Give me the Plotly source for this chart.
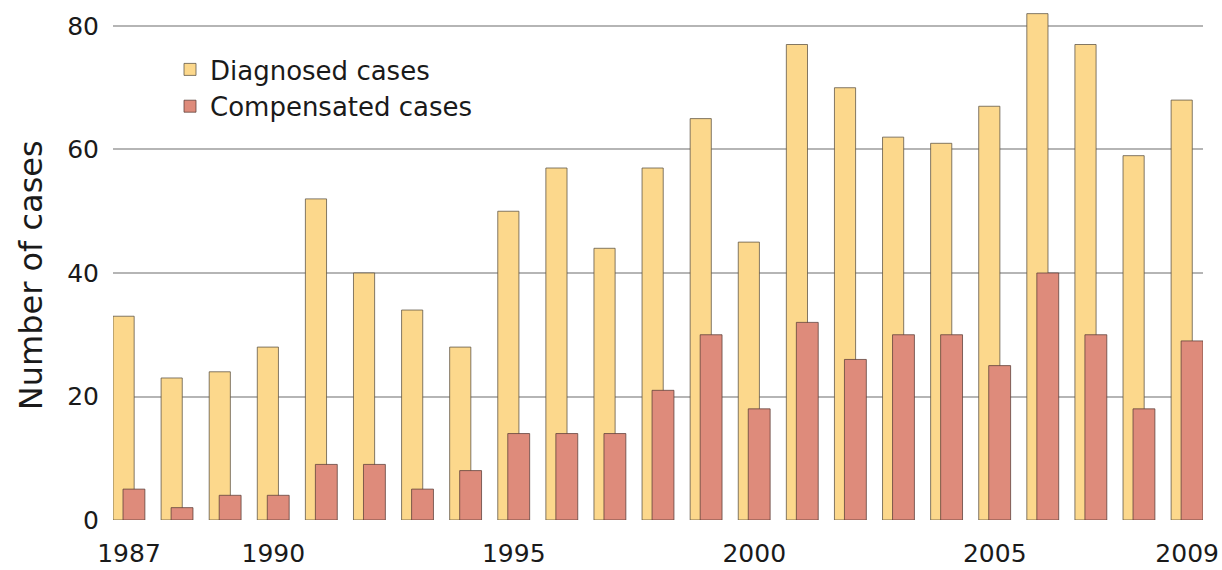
import plotly.graph_objects as go

years = list(range(1987, 2010))
diagnosed = [33, 23, 24, 28, 52, 40, 34, 28, 50, 57, 44, 57, 65, 45, 77, 70, 62, 61, 67, 82, 77, 59, 68]
compensated = [5, 2, 4, 4, 9, 9, 5, 8, 14, 14, 14, 21, 30, 18, 32, 26, 30, 30, 25, 40, 30, 18, 29]
x_tickvals = [1987, 1990, 1995, 2000, 2005, 2009]
x_ticktext = ["1987", "1990", "1995", "2000", "2005", "2009"]
y_tickvals = [0, 20, 40, 60, 80]
y_title = "Number of cases"

FONT = "DejaVu Sans"

fig = go.Figure()
fig.add_trace(go.Bar(
    x=years, y=diagnosed, name="Diagnosed cases",
    width=0.44, offset=-0.333,
    marker=dict(color="#FCD88C", line=dict(color="rgba(90,80,65,0.75)", width=1)),
))
fig.add_trace(go.Bar(
    x=years, y=compensated, name="Compensated cases",
    width=0.455, offset=-0.125,
    marker=dict(color="#DE8B7B", line=dict(color="rgba(90,60,55,0.75)", width=1)),
))

fig.update_layout(
    width=1222, height=570, autosize=False,
    barmode="overlay",
    plot_bgcolor="white", paper_bgcolor="white",
    margin=dict(l=113, r=19, t=9, b=50),
    font=dict(family=FONT, size=25, color="#1a1a1a"),
    legend=dict(
        x=0.0523, y=0.9276, xanchor="left", yanchor="top",
        bgcolor="rgba(0,0,0,0)", font=dict(size=26, family=FONT),
        tracegroupgap=0, itemwidth=30,
    ),
    xaxis=dict(
        range=[1986.667, 2009.33],
        tickmode="array", tickvals=x_tickvals, ticktext=x_ticktext,
        showgrid=False, zeroline=False, showline=False, ticks="",
        tickfont=dict(size=25), ticklabelstandoff=16,
        automargin=False, ticklabeloverflow="allow",
    ),
    yaxis=dict(
        range=[0, 82.75],
        tickmode="array", tickvals=y_tickvals,
        showgrid=True, gridcolor="#b5b5b5", gridwidth=2,
        zeroline=True, zerolinecolor="white", zerolinewidth=1,
        showline=False, ticks="",
        tickfont=dict(size=25), ticklabelstandoff=13,
        automargin=False,
    ),
    annotations=[dict(
        text=y_title, textangle=-90, showarrow=False,
        xref="paper", yref="paper", x=-0.0752, y=0.479,
        xanchor="center", yanchor="middle",
        font=dict(size=32, family=FONT, color="#1a1a1a"),
    )],
)

fig.write_html(
    "out.html",
    config={"responsive": False, "displayModeBar": False},
    post_script="document.body.style.margin='0';document.body.style.overflow='hidden';",
)
